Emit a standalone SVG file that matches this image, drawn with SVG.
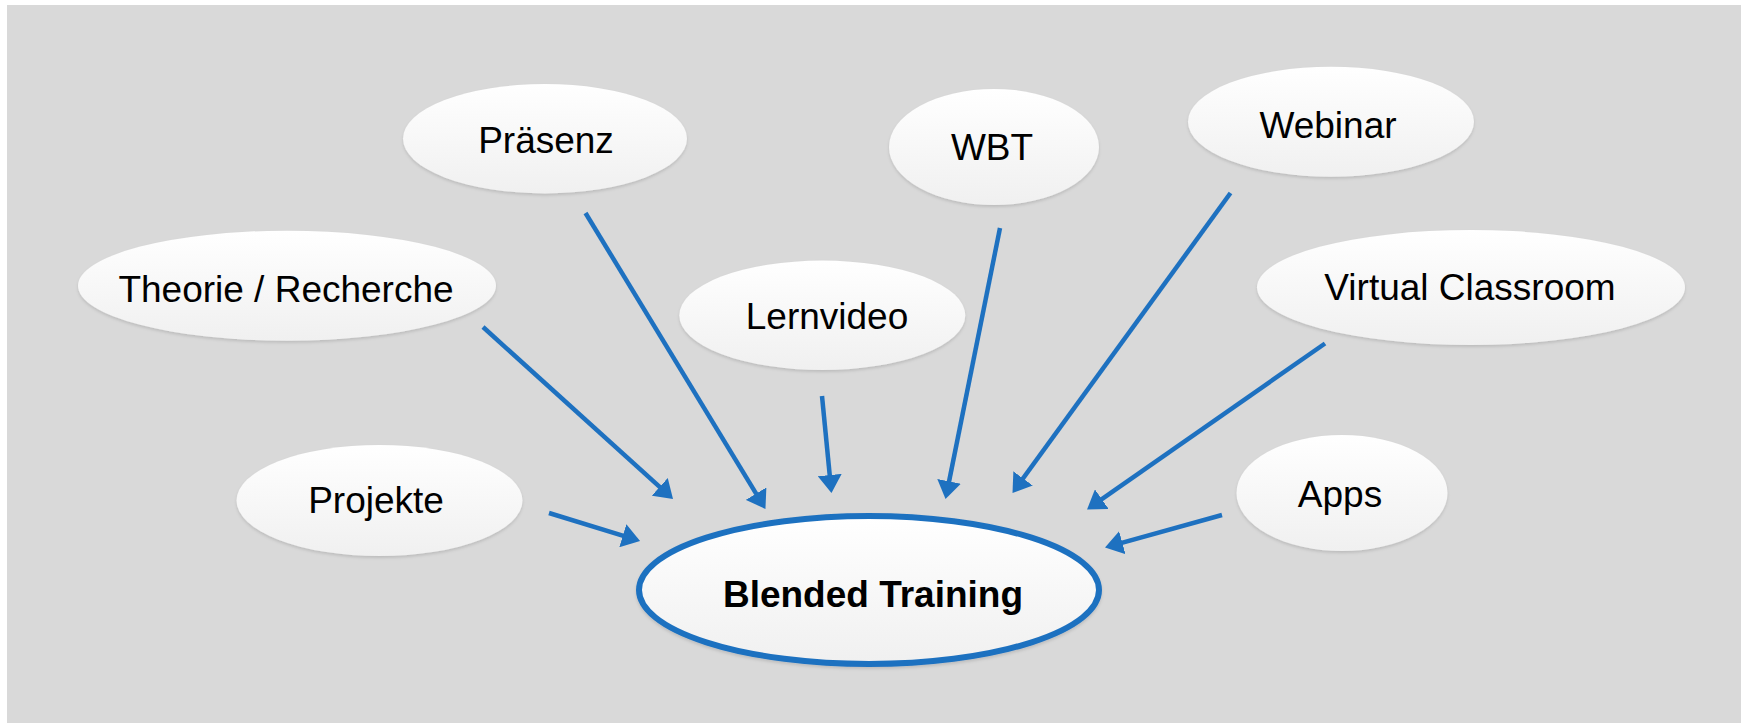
<svg xmlns="http://www.w3.org/2000/svg" width="1744" height="723" viewBox="0 0 1744 723">
<style>
.node{fill:url(#g);filter:url(#sh)}
.lbl{font-family:"Liberation Sans",Arial,sans-serif;font-size:37px;fill:#000;text-anchor:middle}
.conn line{stroke:#1e71c0;stroke-width:4.5;marker-end:url(#ah)}
</style>
<defs>
<linearGradient id="g" x1="0" y1="0" x2="0" y2="1">
<stop offset="0" stop-color="#ffffff"/>
<stop offset="1" stop-color="#f0f0f0"/>
</linearGradient>
<filter id="sh" x="-10%" y="-10%" width="120%" height="130%">
<feDropShadow dx="0" dy="2" stdDeviation="1.5" flood-color="#000" flood-opacity="0.13"/>
</filter>
<marker id="ah" markerUnits="userSpaceOnUse" markerWidth="18" markerHeight="24" viewBox="0 0 18 24" refX="10" refY="12" orient="auto">
<path d="M0,0 L18,12 L0,24 z" fill="#1e71c0"/>
</marker>
</defs>
<rect x="7" y="5" width="1734" height="718" fill="#d9d9d9"/>
<g id="connectors" class="conn">
<line x1="483" y1="327" x2="667.1" y2="493.6"/>
<line x1="585.5" y1="213" x2="761.3" y2="502.2"/>
<line x1="822" y1="396" x2="830.7" y2="485"/>
<line x1="1000" y1="228" x2="947.1" y2="491.2"/>
<line x1="1230.5" y1="193" x2="1017.2" y2="486.5"/>
<line x1="1325" y1="343.5" x2="1093.6" y2="504.9"/>
<line x1="1222" y1="515" x2="1112.7" y2="545.4"/>
<line x1="549" y1="513" x2="632.4" y2="538.6"/>
</g>
<g id="n-theorie"><ellipse class="node" cx="287" cy="285.7" rx="209" ry="55"/><text class="lbl" x="286" y="301.7">Theorie / Recherche</text></g>
<g id="n-praesenz"><ellipse class="node" cx="545" cy="138.7" rx="142" ry="54.7"/><text class="lbl" x="546" y="152.7">Präsenz</text></g>
<g id="n-lernvideo"><ellipse class="node" cx="822.3" cy="315.3" rx="143" ry="54.7"/><text class="lbl" x="827" y="329.3">Lernvideo</text></g>
<g id="n-wbt"><ellipse class="node" cx="994" cy="147" rx="105" ry="58"/><text class="lbl" x="992" y="160">WBT</text></g>
<g id="n-webinar"><ellipse class="node" cx="1331" cy="121.7" rx="143" ry="55"/><text class="lbl" x="1328" y="138.3">Webinar</text></g>
<g id="n-virtual"><ellipse class="node" cx="1471" cy="287.5" rx="214" ry="57.5"/><text class="lbl" x="1470" y="300">Virtual Classroom</text></g>
<g id="n-projekte"><ellipse class="node" cx="379.5" cy="500.5" rx="143" ry="55.5"/><text class="lbl" x="376" y="513.3">Projekte</text></g>
<g id="n-apps"><ellipse class="node" cx="1342" cy="493" rx="105.5" ry="58"/><text class="lbl" x="1340" y="506.7">Apps</text></g>
<g id="n-blended"><ellipse class="node" cx="869" cy="590" rx="230" ry="74" stroke="#1e71c0" stroke-width="6"/><text class="lbl" x="873" y="606.7" font-weight="bold">Blended Training</text></g>
</svg>
